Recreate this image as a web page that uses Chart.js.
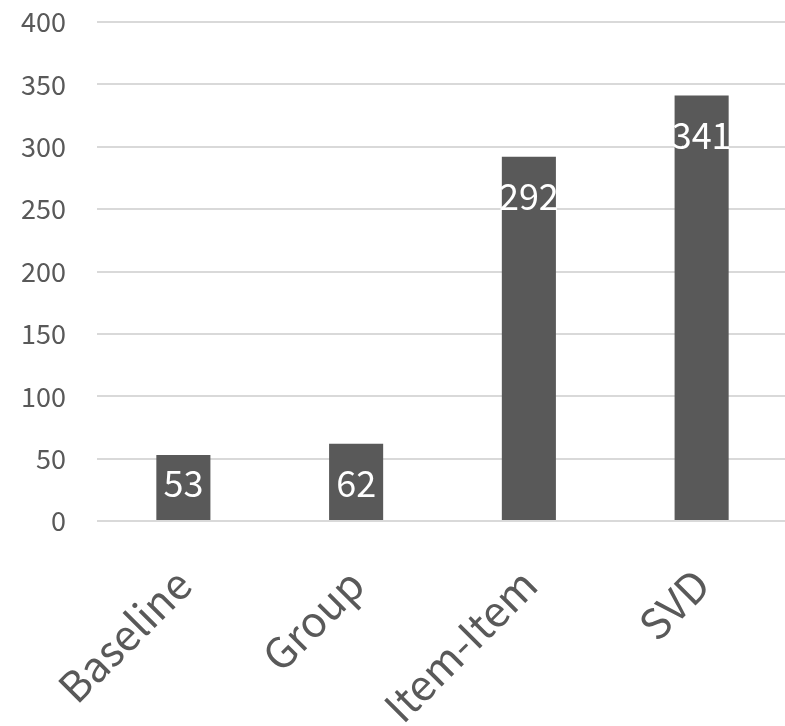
<!DOCTYPE html>
<html>
<head>
<meta charset="utf-8">
<script src="https://cdn.jsdelivr.net/npm/chart.js@4.4.1/dist/chart.umd.min.js"></script>
<style>
  html, body { margin: 0; padding: 0; background: #ffffff; overflow: hidden; }
  #wrap { width: 785px; height: 726px; overflow: hidden; position: relative; }
  #chart { display: block; }
</style>
</head>
<body>
<div id="wrap"><canvas id="chart" width="792" height="726"></canvas></div>
<script>
// Methods compared and their scores
const categories = ['Baseline', 'Group', 'Item-Item', 'SVD'];
const scores = [53, 62, 292, 341];
const yTicks = [0, 50, 100, 150, 200, 250, 300, 350, 400];

const FONT = '"Noto Sans CJK SC", "Noto Sans", sans-serif';
const TEXT = '#595959';
const GRID = '#d9d9d9';

// White value labels placed inside the top end of each bar
const valueLabels = {
  id: 'valueLabels',
  afterDatasetsDraw(chart) {
    const ctx = chart.ctx;
    const meta = chart.getDatasetMeta(0);
    ctx.save();
    ctx.fillStyle = '#ffffff';
    ctx.font = '36px ' + FONT;
    ctx.textAlign = 'center';
    ctx.textBaseline = 'middle';
    meta.data.forEach((bar, i) => {
      const y = Math.min(bar.y + 40, bar.base - 37);
      ctx.fillText(String(chart.data.datasets[0].data[i]), bar.x, y);
    });
    ctx.restore();
  }
};

new Chart(document.getElementById('chart'), {
  type: 'bar',
  data: {
    labels: categories,
    datasets: [{
      data: scores,
      backgroundColor: '#595959',
      barPercentage: 1,
      categoryPercentage: 0.313
    }]
  },
  options: {
    responsive: false,
    animation: false,
    layout: { padding: { top: 22, right: 4, left: 0, bottom: 0 } },
    plugins: { legend: { display: false }, tooltip: { enabled: false } },
    scales: {
      x: {
        grid: { display: false },
        border: { display: false },
        ticks: {
          color: TEXT,
          font: { family: FONT, size: 42 },
          minRotation: 45,
          maxRotation: 45,
          padding: 30
        },
        afterFit(scale) {
          scale.height = 205;
          scale.paddingLeft = 0;
          scale.paddingRight = 0;
        }
      },
      y: {
        min: 0,
        max: 400,
        afterBuildTicks(scale) { scale.ticks = yTicks.map(v => ({ value: v })); },
        grid: { color: GRID, lineWidth: 2, drawTicks: false },
        border: { display: false },
        ticks: {
          color: TEXT,
          font: { family: FONT, size: 27 },
          padding: 31
        },
        afterFit(scale) {
          scale.width = 97;
          scale.paddingTop = 0;
          scale.paddingBottom = 0;
        }
      }
    }
  },
  plugins: [valueLabels]
});
</script>
</body>
</html>
